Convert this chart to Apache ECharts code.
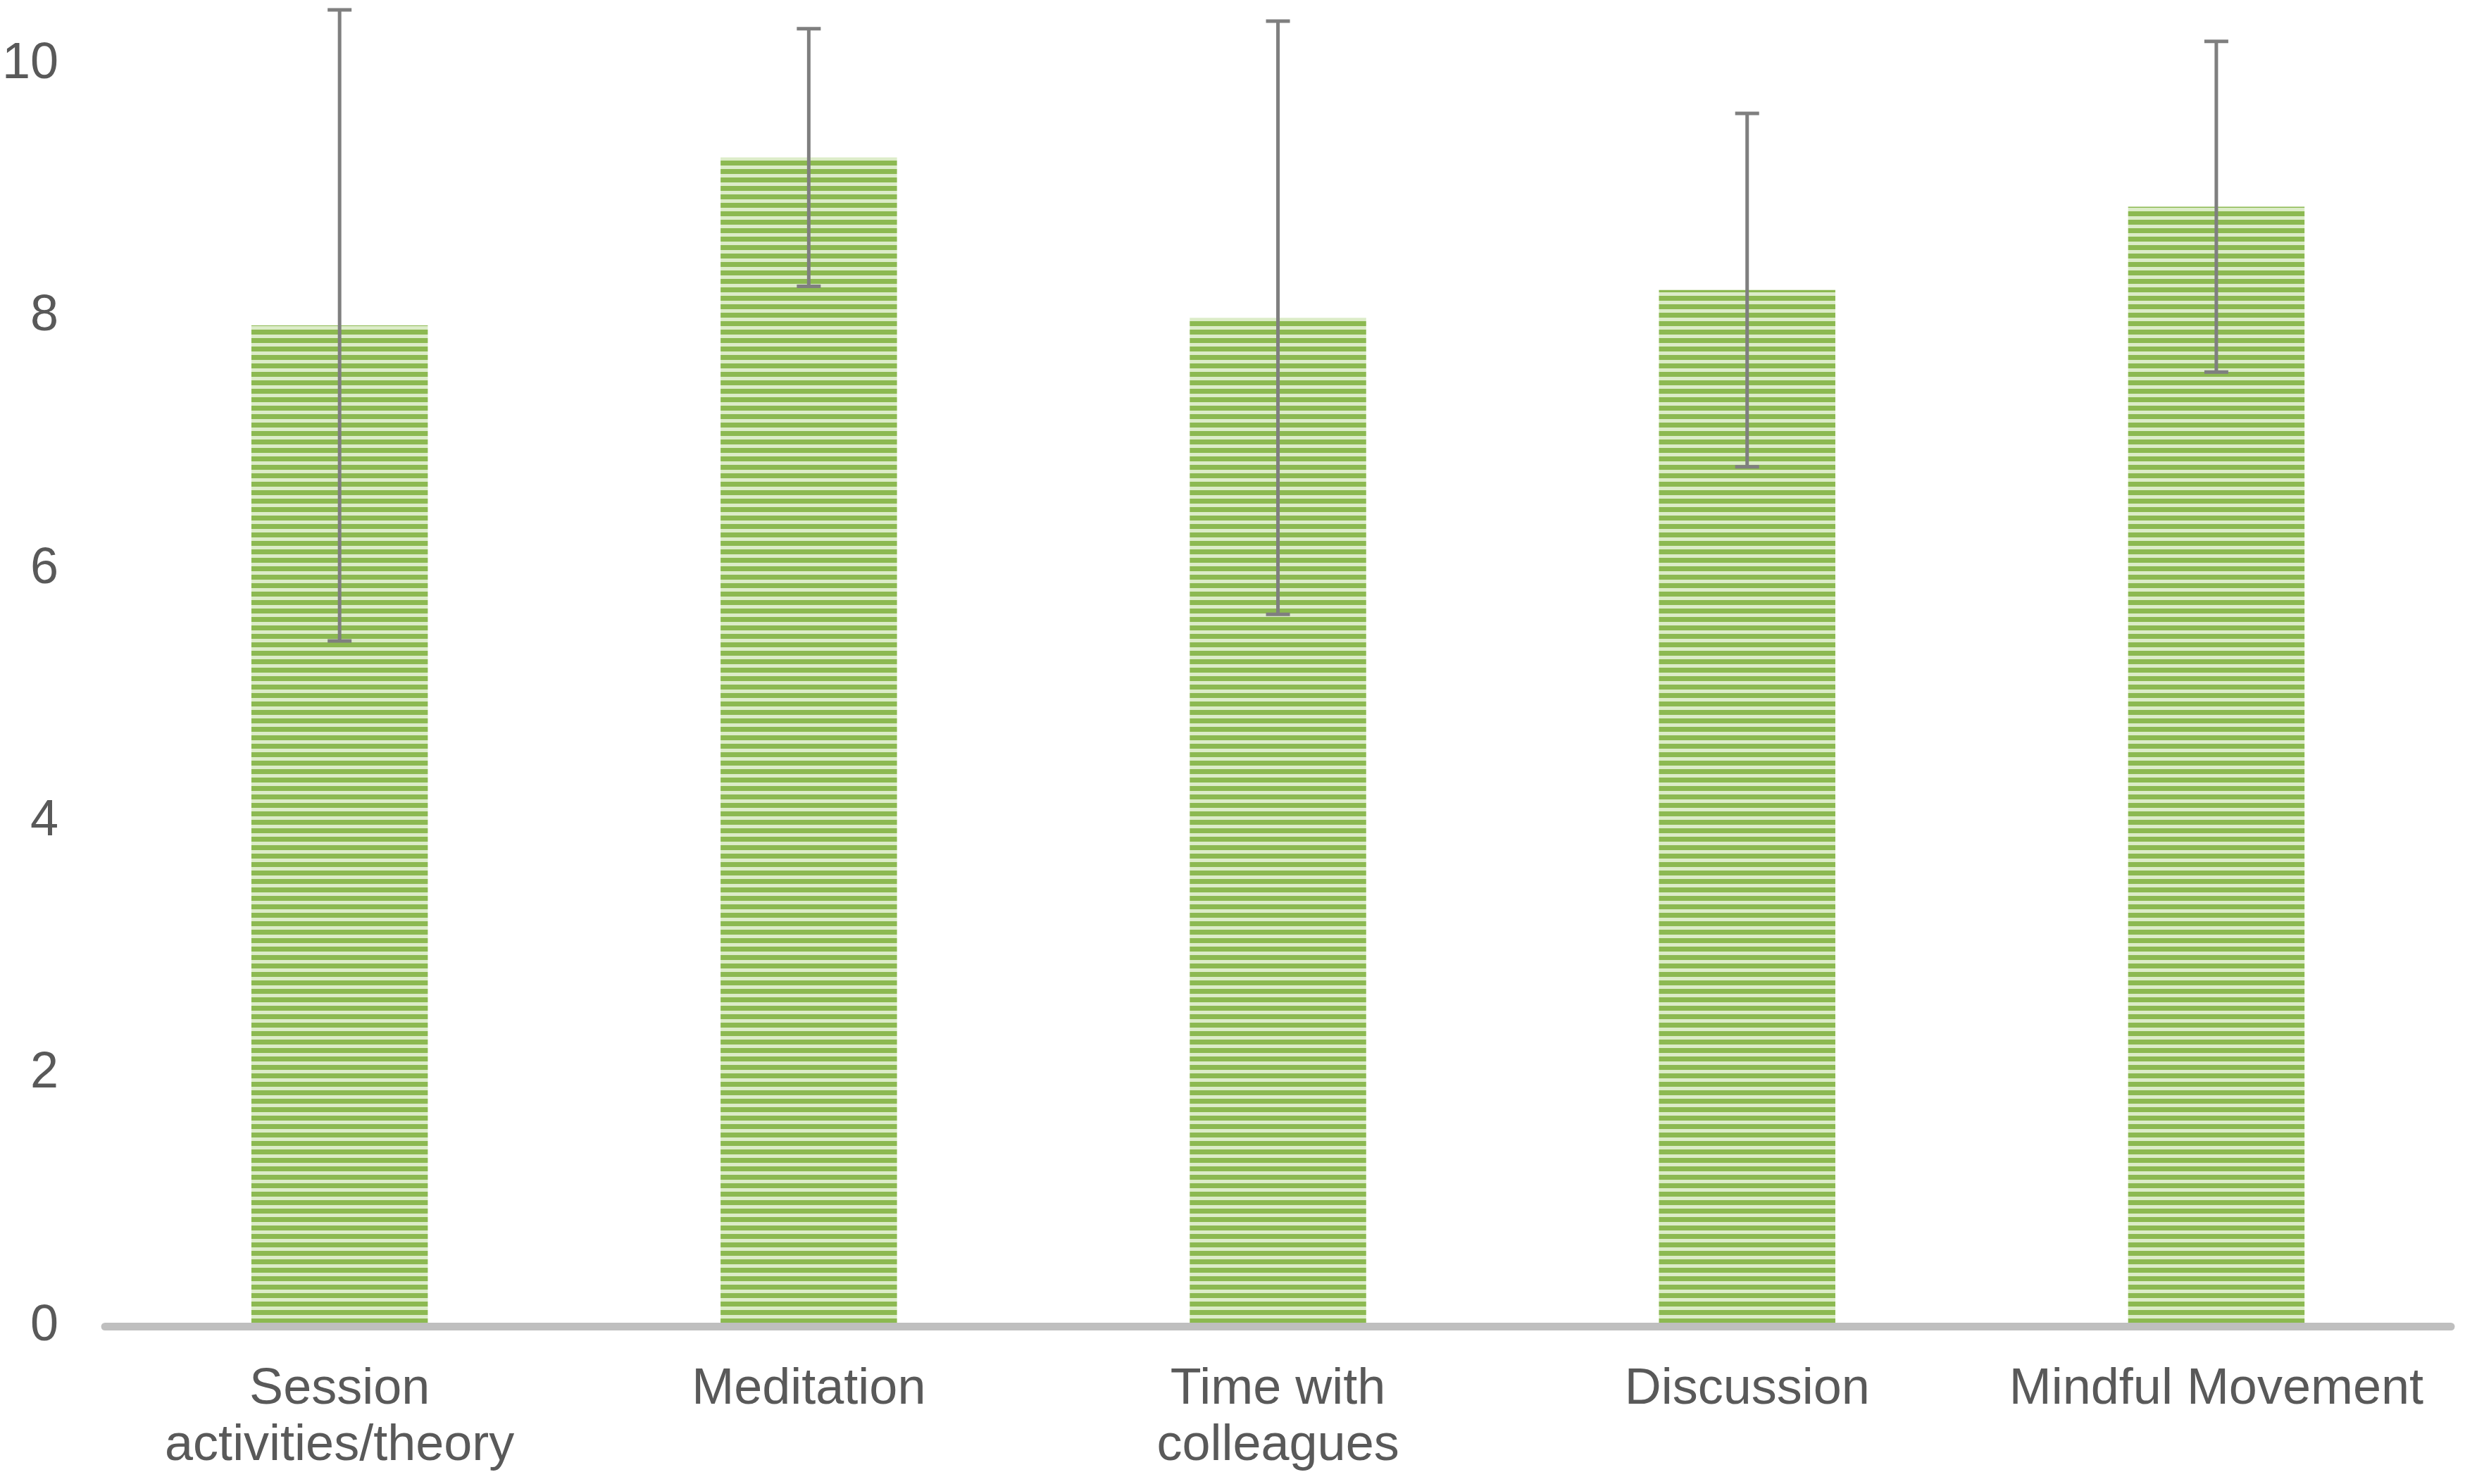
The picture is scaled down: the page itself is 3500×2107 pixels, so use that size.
<!DOCTYPE html>
<html><head><meta charset="utf-8">
<script src="https://cdn.jsdelivr.net/npm/echarts@6/dist/echarts.min.js"></script>
<style>html,body{margin:0;padding:0;background:#fff}#c{width:3500px;height:2107px}</style>
</head><body><div id="c"></div>
<script>
const categories = ['Session\nactivities/theory', 'Meditation', 'Time with\ncolleagues', 'Discussion', 'Mindful Movement'];
const means = [7.93, 9.26, 7.99, 8.21, 8.87];
const errors = [2.50, 1.02, 2.35, 1.40, 1.31];
const yMin = 0, yMax = 10, yStep = 2;

const pc = document.createElement('canvas');
pc.width = 8; pc.height = 12;
const ctx = pc.getContext('2d');
ctx.fillStyle = '#dcecc8'; ctx.fillRect(0, 0, 8, 12);
ctx.fillStyle = '#8cb951'; ctx.fillRect(0, 0, 8, 7);

const chart = echarts.init(document.getElementById('c'), null, {renderer: 'canvas'});
chart.setOption({
  animation: false,
  backgroundColor: '#ffffff',
  grid: {left: 146, right: 20, top: 91, bottom: 224, containLabel: false},
  xAxis: {
    type: 'category', data: categories, z: 5,
    axisLine: {show: true, lineStyle: {color: '#bfbfbf', width: 11}},
    axisTick: {show: false},
    axisLabel: {color: '#595959', fontSize: 72, fontFamily: 'Liberation Sans, Arial, sans-serif', lineHeight: 80, margin: 50, interval: 0}
  },
  yAxis: {
    type: 'value', min: yMin, max: yMax, interval: yStep,
    axisLine: {show: false}, axisTick: {show: false}, splitLine: {show: false},
    axisLabel: {color: '#595959', fontSize: 72, fontFamily: 'Liberation Sans, Arial, sans-serif', margin: 66}
  },
  series: [
    {
      type: 'bar', data: means, barWidth: '37.6%', z: 2,
      itemStyle: {color: {image: pc, repeat: 'repeat'}}
    },
    {
      type: 'custom', z: 10, clip: false,
      data: means.map((m, i) => [i, m - errors[i], m + errors[i]]),
      encode: {x: 0, y: [1, 2]},
      renderItem: function (params, api) {
        const x = api.value(0);
        const lo = api.coord([x, api.value(1)]);
        const hi = api.coord([x, api.value(2)]);
        const hw = 17;
        const st = {stroke: '#7f7f7f', lineWidth: 5};
        return {type: 'group', children: [
          {type: 'line', shape: {x1: lo[0], y1: lo[1], x2: hi[0], y2: hi[1]}, style: st},
          {type: 'line', shape: {x1: lo[0] - hw, y1: lo[1], x2: lo[0] + hw, y2: lo[1]}, style: st},
          {type: 'line', shape: {x1: hi[0] - hw, y1: hi[1], x2: hi[0] + hw, y2: hi[1]}, style: st}
        ]};
      }
    }
  ]
});
</script></body></html>
